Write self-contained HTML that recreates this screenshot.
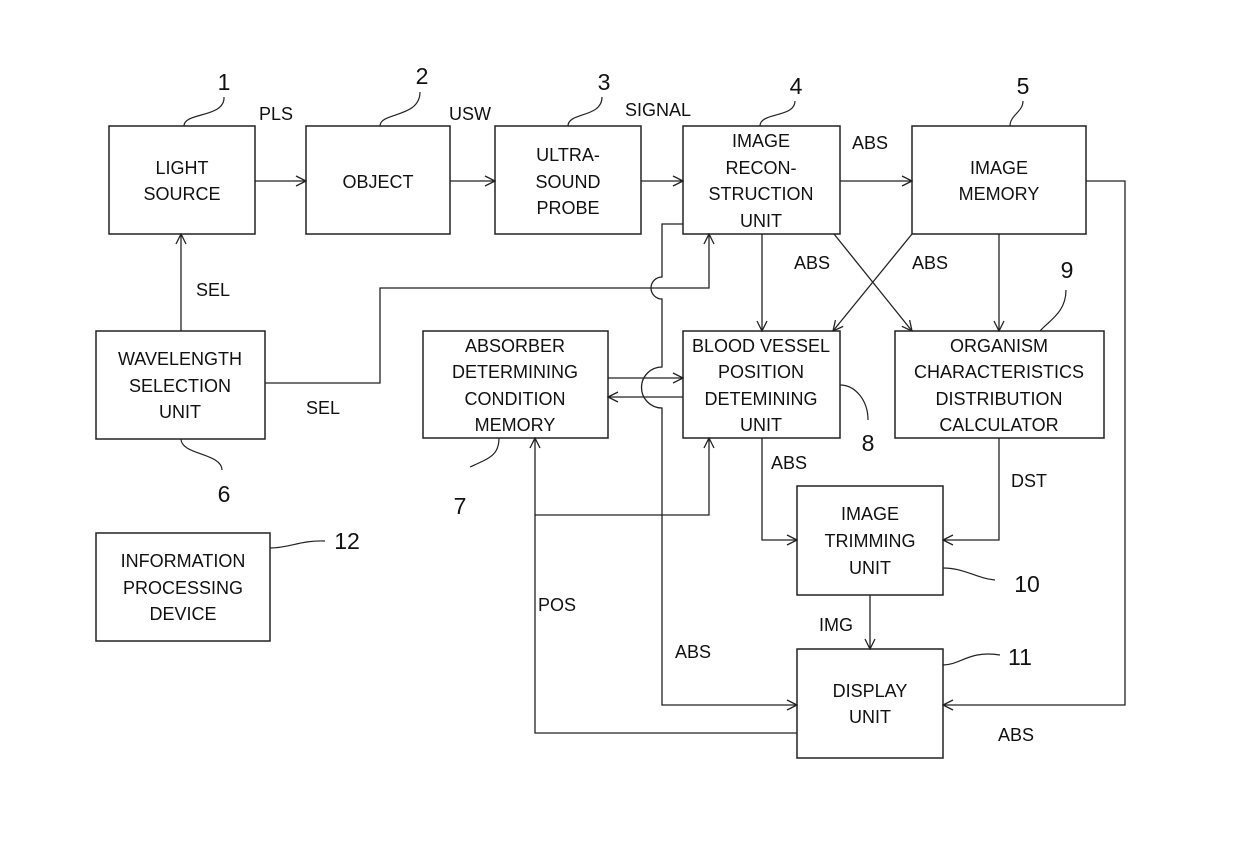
<!DOCTYPE html>
<html><head><style>body{margin:0;background:#fff}svg{display:block}</style></head><body>
<svg width="1240" height="860" viewBox="0 0 1240 860" xmlns="http://www.w3.org/2000/svg">
<defs><marker id="a" markerWidth="12" markerHeight="12" refX="11" refY="6" orient="auto" markerUnits="userSpaceOnUse"><path d="M1,1 L11,6 L1,11" fill="none" stroke="#222" stroke-width="1.3"/></marker></defs>
<g fill="none" stroke="#222" stroke-width="1.5">
<rect x="109" y="126" width="146" height="108"/>
<rect x="306" y="126" width="144" height="108"/>
<rect x="495" y="126" width="146" height="108"/>
<rect x="683" y="126" width="157" height="108"/>
<rect x="912" y="126" width="174" height="108"/>
<rect x="96" y="331" width="169" height="108"/>
<rect x="423" y="331" width="185" height="107"/>
<rect x="683" y="331" width="157" height="107"/>
<rect x="895" y="331" width="209" height="107"/>
<rect x="797" y="486" width="146" height="109"/>
<rect x="797" y="649" width="146" height="109"/>
<rect x="96" y="533" width="174" height="108"/>
</g>
<g fill="none" stroke="#222" stroke-width="1.3" marker-end="url(#a)">
<path d="M255,181H306"/><path d="M450,181H495"/><path d="M641,181H683"/><path d="M840,181H912"/>
<path d="M181,331V234"/>
<path d="M265,383H380V288H709V234"/>
<path d="M683,224H662V277A11,11 0 0 0 662,299V367A11,11 0 0 0 662,408V705H797"/>
<path d="M762,234V331"/>
<path d="M834,234L912,331"/>
<path d="M912,234L833,331"/>
<path d="M999,234V331"/>
<path d="M1086,181H1125V705H943"/>
<path d="M608,378H683"/>
<path d="M683,397H608"/>
<path d="M797,733H535V438"/>
<path d="M535,515H709V438"/>
<path d="M762,438V540H797"/>
<path d="M999,438V540H943"/>
<path d="M870,595V649"/>
</g>
<g fill="none" stroke="#222" stroke-width="1.2">
<path d="M184,126C184,112 225,118 224,97"/>
<path d="M380,126C380,112 420,118 420,92"/>
<path d="M568,126C568,112 602,118 602,97"/>
<path d="M760,126C760,112 795,118 795,101"/>
<path d="M1010,126C1010,115 1023,112 1023,101"/>
<path d="M181,439C181,455 222,453 222,470"/>
<path d="M499,438C499,455 490,458 470,467"/>
<path d="M840,385C855,385 868,400 868,420"/>
<path d="M1040,331C1050,320 1066,312 1066,290"/>
<path d="M943,568C965,568 975,578 995,580"/>
<path d="M943,665C960,665 970,650 1000,655"/>
<path d="M270,548C290,548 300,540 325,541"/>
</g>
<g font-family="Liberation Sans, sans-serif" font-size="18" fill="#111" text-anchor="middle">
<text x="182" y="174">LIGHT</text><text x="182" y="200">SOURCE</text>
<text x="378" y="188">OBJECT</text>
<text x="568" y="161">ULTRA-</text><text x="568" y="188">SOUND</text><text x="568" y="214">PROBE</text>
<text x="761" y="147">IMAGE</text><text x="761" y="174">RECON-</text><text x="761" y="200">STRUCTION</text><text x="761" y="227">UNIT</text>
<text x="999" y="174">IMAGE</text><text x="999" y="200">MEMORY</text>
<text x="180" y="365">WAVELENGTH</text><text x="180" y="392">SELECTION</text><text x="180" y="418">UNIT</text>
<text x="515" y="352">ABSORBER</text><text x="515" y="378">DETERMINING</text><text x="515" y="405">CONDITION</text><text x="515" y="431">MEMORY</text>
<text x="761" y="352">BLOOD VESSEL</text><text x="761" y="378">POSITION</text><text x="761" y="405">DETEMINING</text><text x="761" y="431">UNIT</text>
<text x="999" y="352">ORGANISM</text><text x="999" y="378">CHARACTERISTICS</text><text x="999" y="405">DISTRIBUTION</text><text x="999" y="431">CALCULATOR</text>
<text x="870" y="520">IMAGE</text><text x="870" y="547">TRIMMING</text><text x="870" y="574">UNIT</text>
<text x="870" y="697">DISPLAY</text><text x="870" y="723">UNIT</text>
<text x="183" y="567">INFORMATION</text><text x="183" y="594">PROCESSING</text><text x="183" y="620">DEVICE</text>
<text x="276" y="120">PLS</text><text x="470" y="120">USW</text><text x="658" y="116">SIGNAL</text>
<text x="870" y="149">ABS</text><text x="812" y="269">ABS</text><text x="930" y="269">ABS</text>
<text x="213" y="296">SEL</text><text x="323" y="414">SEL</text><text x="789" y="469">ABS</text>
<text x="1029" y="487">DST</text><text x="557" y="611">POS</text><text x="693" y="658">ABS</text>
<text x="836" y="631">IMG</text><text x="1016" y="741">ABS</text>
</g>
<g font-family="Liberation Sans, sans-serif" font-size="23" fill="#111" text-anchor="middle">
<text x="224" y="90">1</text><text x="422" y="84">2</text><text x="604" y="90">3</text><text x="796" y="94">4</text><text x="1023" y="94">5</text>
<text x="224" y="502">6</text><text x="460" y="514">7</text><text x="868" y="451">8</text><text x="1067" y="278">9</text>
<text x="1027" y="592">10</text><text x="1020" y="665">11</text><text x="347" y="549">12</text>
</g>
</svg>
</body></html>
